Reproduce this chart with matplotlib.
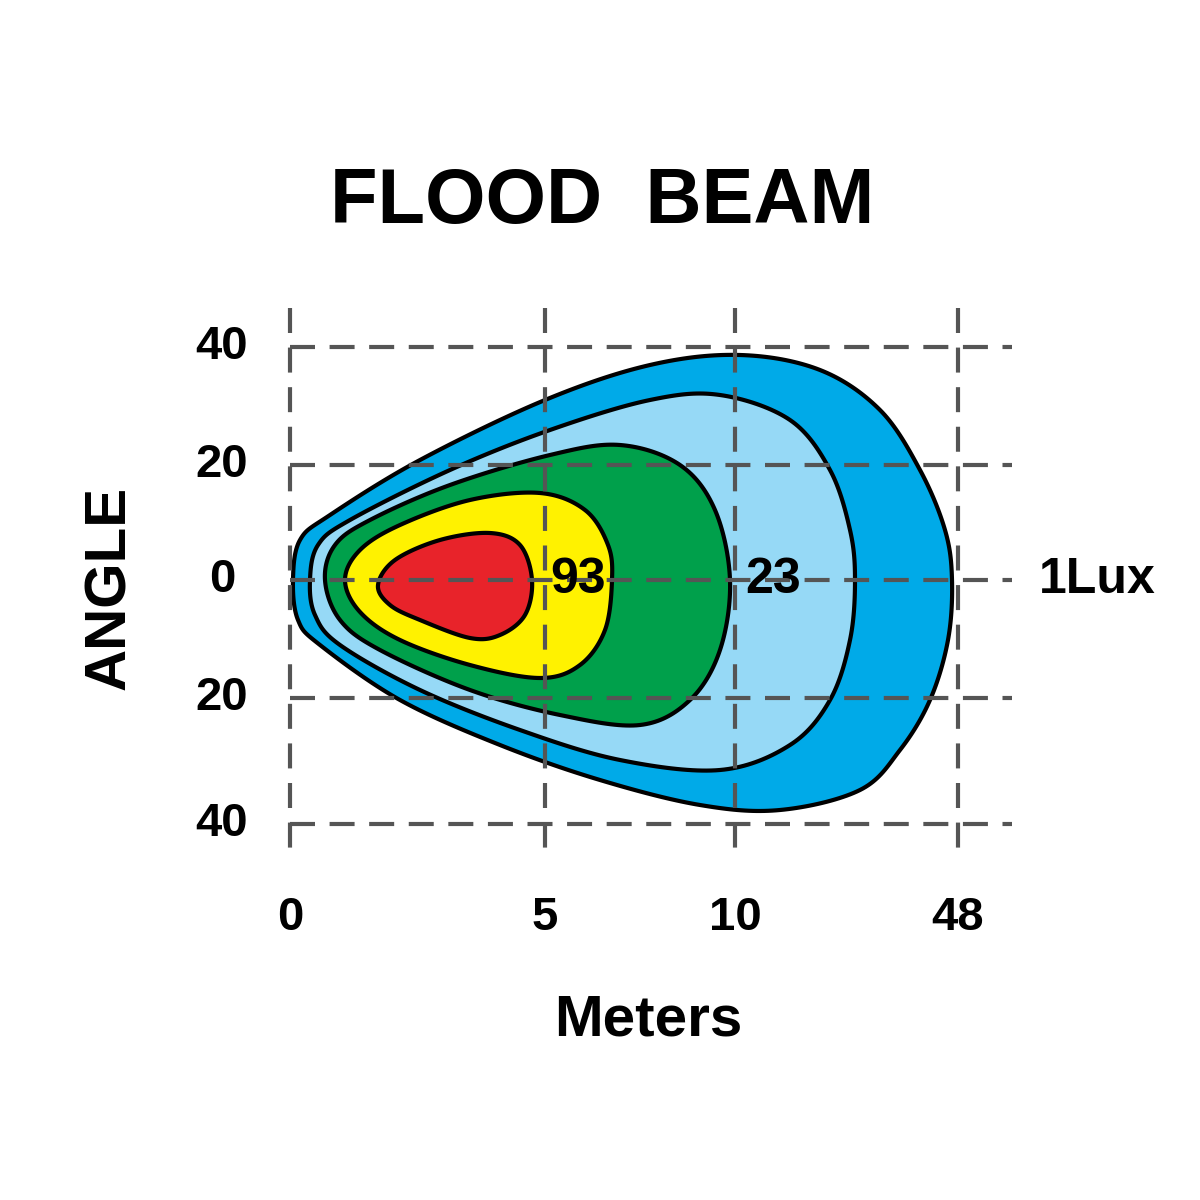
import numpy as np
import matplotlib
matplotlib.use("Agg")
import matplotlib.pyplot as plt

# Tick positions (pixel-like plot units) and labels
x_tick_pos = [290, 545, 735, 958]
x_tick_labels = ["0", "5", "10", "48"]
y_tick_pos = [347, 465, 580, 698, 824]
y_tick_labels = ["40", "20", "0", "20", "40"]

# Contour outlines (outer -> inner)
outer = [(293,580),(300,540),(330,515),(420,460),(545,400),(650,365),(740,355),(820,370),(880,410),(920,470),(945,530),(952,580),(948,640),(930,700),(900,750),(860,790),(780,810),(700,805),(600,780),(500,745),(400,700),(320,645),(298,620)]
light = [(310,580),(318,545),(350,520),(450,470),(550,430),(650,400),(720,395),(790,420),(830,470),(850,530),(855,580),(850,640),(830,700),(790,745),(720,770),(620,760),(520,730),(420,690),(340,645),(315,615)]
green = [(325,580),(335,545),(370,520),(450,485),(550,455),(620,445),(680,465),(715,510),(730,580),(720,650),(690,700),(640,725),(560,715),(470,690),(380,650),(340,620)]
yellow = [(345,580),(360,550),(400,525),(470,500),(540,493),(585,510),(608,545),(612,580),(605,630),(580,665),(540,678),(470,665),(400,640),(360,612)]
red = [(378,585),(395,560),(440,540),(490,533),(520,545),(532,580),(525,615),(500,635),(470,638),(420,620),(390,605)]
shapes = [outer, light, green, yellow, red]
colors = ["#00aae8", "#96d9f6", "#00a04b", "#fff200", "#e8232a"]

lux_labels = [("93", 578), ("23", 773), ("1Lux", 1097)]

def smooth(pts, n=20):
    p = np.array(pts, float)
    N = len(p)
    out = []
    for i in range(N):
        p0, p1, p2, p3 = p[i-1], p[i], p[(i+1) % N], p[(i+2) % N]
        for t in np.linspace(0, 1, n, endpoint=False):
            t2, t3 = t*t, t*t*t
            out.append(0.5*((2*p1) + (-p0+p2)*t + (2*p0-5*p1+4*p2-p3)*t2 + (-p0+3*p1-3*p2+p3)*t3))
    return np.array(out)

fig = plt.figure(figsize=(12, 12), dpi=100)
ax = fig.add_axes([0, 0, 1, 1])
ax.set_xlim(0, 1200); ax.set_ylim(1200, 0); ax.axis("off")

for s, c in zip(shapes, colors):
    xy = smooth(s)
    ax.fill(xy[:, 0], xy[:, 1], facecolor=c, edgecolor="black", lw=3, zorder=2)

gkw = dict(color="#555555", lw=3, dashes=(6, 3.5), zorder=3)
for y in y_tick_pos:
    ax.plot([290, 1012], [y, y], **gkw)
for x in x_tick_pos:
    ax.plot([x, x], [308, 860], **gkw)

font = "Liberation Sans"
for x, l in zip(x_tick_pos, x_tick_labels):
    ax.text(x, 918, l, ha="center", va="center", fontsize=34, fontweight="bold", family=font)
for y, l in zip(y_tick_pos, y_tick_labels):
    ax.text(222, y, l, ha="center", va="center", fontsize=34, fontweight="bold", family=font)
for l, x in lux_labels:
    ax.text(x, 580, l, ha="center", va="center", fontsize=36, fontweight="bold", family=font, zorder=4)

ax.text(602, 202, "FLOOD  BEAM", ha="center", va="center", fontsize=56, fontweight="bold", family=font)
ax.text(648, 1020, "Meters", ha="center", va="center", fontsize=42, fontweight="bold", family=font)
ax.text(110, 588, "ANGLE", ha="center", va="center", rotation=90, fontsize=42, fontweight="bold", family=font)

fig.savefig("out.png", dpi=100, facecolor="white")
